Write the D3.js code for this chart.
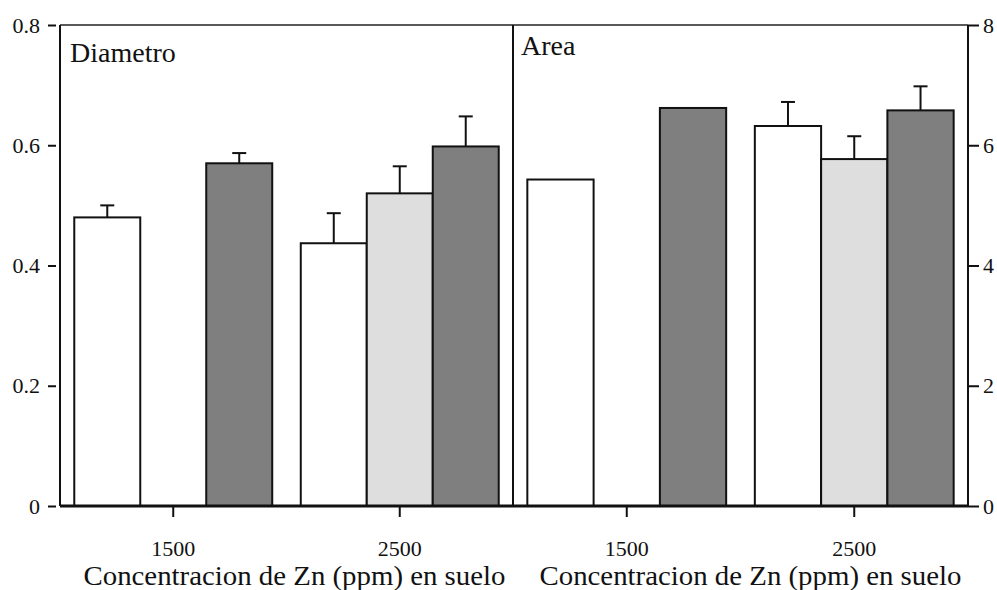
<!DOCTYPE html>
<html>
<head>
<meta charset="utf-8">
<script src="https://cdn.jsdelivr.net/npm/d3@7"></script>
<style>
  body { margin: 0; background: #fff; }
  svg text { font-family: "Liberation Serif", "Times New Roman", serif; fill: #111; }
</style>
</head>
<body>
<div class="chart"></div>
<script>
// ** data
const groups = ["1500", "2500"];
const seriesNames = ["a", "b", "c"];
const seriesFill = ["#ffffff", "#dedede", "#7f7f7f"];

// Diametro (left axis, 0 - 0.8)
const diamA = [0.48, 0.437];
const diamB = [null, 0.52];
const diamC = [0.57, 0.598];
const diamErrA = [0.02, 0.05];
const diamErrB = [null, 0.045];
const diamErrC = [0.017, 0.05];

// Area (right axis, 0 - 8)
const areaA = [5.43, 6.32];
const areaB = [null, 5.77];
const areaC = [6.62, 6.58];
const areaErrA = [null, 0.4];
const areaErrB = [null, 0.38];
const areaErrC = [null, 0.4];

const leftTicks = [0, 0.2, 0.4, 0.6, 0.8];
const rightTicks = [0, 2, 4, 6, 8];
const xTitle = "Concentracion de Zn (ppm) en suelo";

//** d3 */
var svg = d3.select(".chart")
            .append("svg")
            .attr("width", 997)
            .attr("height", 590);

const yTop = 25, yBottom = 506;
const xLeft = 60, xMid = 513, xRight = 968;

var yL = d3.scaleLinear().domain([0, 0.8]).range([yBottom, yTop]);
var yR = d3.scaleLinear().domain([0, 8]).range([yBottom, yTop]);

function panel(x0, x1, y, vals, errs, label, labelX, labelY, titleShift) {
  var gx = d3.scaleBand().domain(groups).range([x0, x1])
             .paddingInner(0.126).paddingOuter(0.063);
  var sx = d3.scaleBand().domain(seriesNames).range([0, gx.bandwidth()]);

  groups.forEach((g, gi) => {
    seriesNames.forEach((s, si) => {
      var v = vals[si][gi];
      if (v == null) return;
      var bx = gx(g) + sx(s);
      svg.append("rect")
        .attr("x", bx).attr("y", y(v))
        .attr("width", sx.bandwidth()).attr("height", y(0) - y(v))
        .attr("fill", seriesFill[si])
        .attr("stroke", "#111").attr("stroke-width", 2);
      var e = errs[si][gi];
      if (e == null) return;
      var cx = bx + sx.bandwidth() / 2;
      svg.append("line")
        .attr("x1", cx).attr("x2", cx).attr("y1", y(v)).attr("y2", y(v + e))
        .attr("stroke", "#111").attr("stroke-width", 2);
      svg.append("line")
        .attr("x1", cx - 7).attr("x2", cx + 7).attr("y1", y(v + e)).attr("y2", y(v + e))
        .attr("stroke", "#111").attr("stroke-width", 2);
    });
  });

  // bottom ticks + labels
  var ax = svg.append("g")
    .attr("transform", `translate(0,${yBottom})`)
    .call(d3.axisBottom(gx).tickSize(11).tickPadding(23).tickSizeOuter(0));
  ax.select(".domain").remove();
  ax.selectAll("line").attr("stroke", "#111").attr("stroke-width", 2);
  ax.selectAll("text").attr("font-size", 22);

  svg.append("text")
    .attr("x", (x0 + x1) / 2 + titleShift).attr("y", 585)
    .attr("text-anchor", "middle")
    .attr("font-size", 27)
    .attr("textLength", 422).attr("lengthAdjust", "spacingAndGlyphs")
    .text(xTitle);

  svg.append("text")
    .attr("x", labelX).attr("y", labelY)
    .attr("font-size", 28)
    .text(label);
}

panel(xLeft, xMid, yL, [diamA, diamB, diamC], [diamErrA, diamErrB, diamErrC], "Diametro", 70, 62, 8);
panel(xMid, xRight, yR, [areaA, areaB, areaC], [areaErrA, areaErrB, areaErrC], "Area", 521, 55, 10);

// frame
svg.append("line").attr("x1", xLeft).attr("x2", xRight).attr("y1", yTop).attr("y2", yTop)
  .attr("stroke", "#222").attr("stroke-width", 1.5);
svg.append("line").attr("x1", xLeft).attr("x2", xLeft).attr("y1", yTop).attr("y2", yBottom)
  .attr("stroke", "#111").attr("stroke-width", 2);
svg.append("line").attr("x1", xMid).attr("x2", xMid).attr("y1", yTop).attr("y2", yBottom)
  .attr("stroke", "#111").attr("stroke-width", 2);
svg.append("line").attr("x1", xRight).attr("x2", xRight).attr("y1", yTop).attr("y2", yBottom)
  .attr("stroke", "#111").attr("stroke-width", 2);
svg.append("line").attr("x1", xLeft).attr("x2", xRight).attr("y1", yBottom).attr("y2", yBottom)
  .attr("stroke", "#111").attr("stroke-width", 3);

// y axes
var aL = svg.append("g").attr("transform", "translate(56,0)")
  .call(d3.axisLeft(yL).tickValues(leftTicks).tickSize(8).tickPadding(8)
        .tickFormat(d => d === 0 ? "0" : d3.format(".1f")(d)));
aL.select(".domain").remove();
aL.selectAll("line").attr("stroke", "#111").attr("stroke-width", 2);
aL.selectAll("text").attr("font-size", 22);

var aR = svg.append("g").attr("transform", `translate(${xRight},0)`)
  .call(d3.axisRight(yR).tickValues(rightTicks).tickSize(11).tickPadding(4));
aR.select(".domain").remove();
aR.selectAll("line").attr("stroke", "#111").attr("stroke-width", 2);
aR.selectAll("text").attr("font-size", 22);
</script>
</body>
</html>
